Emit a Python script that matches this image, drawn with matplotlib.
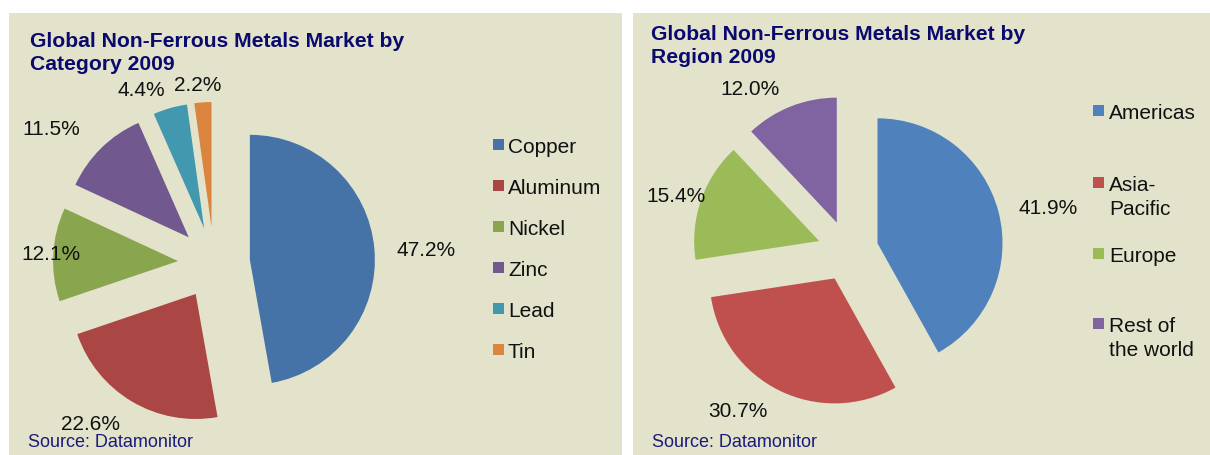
import matplotlib
matplotlib.use("Agg")
import matplotlib.pyplot as plt
from matplotlib.patches import Rectangle

# data
cat_names = ["Copper", "Aluminum", "Nickel", "Zinc", "Lead", "Tin"]
cat_share = [47.2, 22.6, 12.1, 11.5, 4.4, 2.2]
cat_colors = ["#4572A7", "#AA4643", "#89A54E", "#71588F", "#4198AF", "#DB843D"]

reg_names = ["Americas", "Asia-\nPacific", "Europe", "Rest of\nthe world"]
reg_share = [41.9, 30.7, 15.4, 12.0]
reg_colors = ["#4F81BD", "#C0504D", "#9BBB59", "#8064A2"]

W, H = 1210, 455
BG = "#E3E3CC"
NAVY = "#0A0A6E"
plt.rcParams["font.family"] = ["Liberation Sans", "DejaVu Sans"]


def py(y):
    # pixel row (top-down) -> data y (bottom-up)
    return H - y


fig = plt.figure(figsize=(W / 100, H / 100), dpi=100)
fig.patch.set_facecolor("white")
ax = fig.add_axes([0, 0, 1, 1])

# panel backgrounds
ax.add_patch(Rectangle((9, 0), 613, H - 13, facecolor=BG, edgecolor="none", zorder=0))
ax.add_patch(Rectangle((633, 0), W - 633, H - 13, facecolor=BG, edgecolor="none", zorder=0))

# pies
ax.pie(cat_share, explode=[36] * len(cat_share), radius=125, center=(214, py(263)),
       startangle=90, counterclock=False, colors=cat_colors,
       wedgeprops=dict(linewidth=0))
ax.pie(reg_share, explode=[30.5] * len(reg_share), radius=125, center=(848, py(251)),
       startangle=90, counterclock=False, colors=reg_colors,
       wedgeprops=dict(linewidth=0))

ax.set_xlim(0, W)
ax.set_ylim(0, H)
ax.set_aspect("auto")
ax.axis("off")

# percentage labels (x centre, baseline)
cat_lbl_pos = [(426, 256), (91, 430), (51, 260), (51, 135), (141, 96), (198, 91)]
reg_lbl_pos = [(1048, 214), (738, 417), (676, 202), (750, 95)]
for v, (x, y) in zip(cat_share, cat_lbl_pos):
    ax.text(x, py(y), f"{v:.1f}%", fontsize=15, ha="center", va="baseline", color="#111111")
for v, (x, y) in zip(reg_share, reg_lbl_pos):
    ax.text(x, py(y), f"{v:.1f}%", fontsize=15, ha="center", va="baseline", color="#111111")

# legends
cat_leg_y = [153, 194, 235, 276, 317, 358]
for name, col, y in zip(cat_names, cat_colors, cat_leg_y):
    ax.add_patch(Rectangle((493, py(y - 3)), 11, 11, facecolor=col, edgecolor="none"))
    ax.text(508, py(y), name, fontsize=15, ha="left", va="baseline", color="#111111")

reg_leg_y = [119, 191, 262, 332]
for name, col, y in zip(reg_names, reg_colors, reg_leg_y):
    ax.add_patch(Rectangle((1093, py(y - 3)), 11, 11, facecolor=col, edgecolor="none"))
    for i, line in enumerate(name.split("\n")):
        ax.text(1109, py(y + 24 * i), line, fontsize=15, ha="left", va="baseline",
                color="#111111")

# titles
for x, y0, sub in [(30, 47, "Category 2009"), (651, 40, "Region 2009")]:
    ax.text(x, py(y0), "Global Non-Ferrous Metals Market by", fontsize=15.2,
            fontweight="bold", color=NAVY, va="baseline")
    ax.text(x, py(y0 + 23), sub, fontsize=15.2, fontweight="bold", color=NAVY, va="baseline")

# source notes
ax.text(28, py(447), "Source: Datamonitor", fontsize=13, color="#1A1A7A", va="baseline")
ax.text(652, py(447), "Source: Datamonitor", fontsize=13, color="#1A1A7A", va="baseline")

fig.savefig("out.png", dpi=100)
